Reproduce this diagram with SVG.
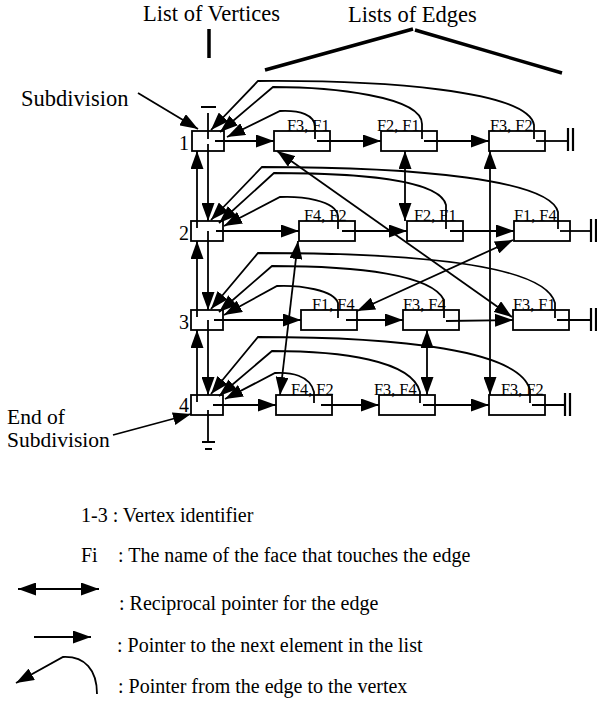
<svg xmlns="http://www.w3.org/2000/svg" width="597" height="702" viewBox="0 0 597 702" font-family="Liberation Serif, Times New Roman, serif">
<style>
text{font-family:'Liberation Serif','Times New Roman',serif;fill:#000}
.t{font-size:22.5px}
.t2{font-size:21.5px}
.lg{font-size:20px}
.el{font-size:16.3px}
.vl{font-size:20px}
rect{fill:#fff;stroke:#000;stroke-width:1.8}
.ln{fill:none;stroke:#000;stroke-width:1.8}
.th{fill:none;stroke:#000;stroke-width:3.5}
.a{marker-end:url(#ah)}
.r{marker-start:url(#ah);marker-end:url(#ah)}
</style>
<defs>
<marker id="ah" markerUnits="userSpaceOnUse" markerWidth="18" markerHeight="13" refX="18" refY="6.5" orient="auto-start-reverse"><path d="M0,0 L18,6.5 L0,13 z" fill="#000"/></marker>
</defs>
<g id="titles" font-family="Liberation Serif, serif">
<text class="t" x="143" y="21" font-family="Liberation Serif, serif">List of Vertices</text>
<path class="th" d="M209,29 L209,58"/>
<text class="t" x="348" y="22" font-family="Liberation Serif, serif">Lists of Edges</text>
<path class="th" d="M265,70 L413,29 M415,30 L562,73"/>
<text class="t" x="21" y="106" font-family="Liberation Serif, serif">Subdivision</text>
<text class="t2" x="7" y="424" font-family="Liberation Serif, serif">End of</text>
<text class="t2" x="7" y="447" font-family="Liberation Serif, serif">Subdivision</text>
</g>
<g id="vertices" font-family="Liberation Serif, serif">
<g id="v1"><rect x="192" y="131" width="32" height="20"/><text class="vl" x="189" y="150" text-anchor="end">1</text></g>
<g id="v2"><rect x="191" y="221" width="32" height="20"/><text class="vl" x="189" y="240" text-anchor="end">2</text></g>
<g id="v3"><rect x="191" y="310" width="32" height="20"/><text class="vl" x="189" y="329" text-anchor="end">3</text></g>
<g id="v4"><rect x="191" y="395" width="32" height="20"/><text class="vl" x="189" y="412" text-anchor="end">4</text></g>
</g>
<g id="edges" font-family="Liberation Serif, serif">
<g id="e11"><rect x="274" y="131" width="56" height="20"/><text class="el" x="287" y="131">F3, F1</text></g>
<g id="e12"><rect x="381" y="131" width="56" height="20"/><text class="el" x="377" y="131">F2, F1</text></g>
<g id="e13"><rect x="489" y="131" width="56" height="20"/><text class="el" x="490" y="131">F3, F2</text></g>
<g id="e21"><rect x="299" y="221" width="56" height="20"/><text class="el" x="304" y="221">F4, F2</text></g>
<g id="e22"><rect x="407" y="221" width="56" height="20"/><text class="el" x="414" y="221">F2, F1</text></g>
<g id="e23"><rect x="514" y="221" width="56" height="20"/><text class="el" x="514" y="221">F1, F4</text></g>
<g id="e31"><rect x="301" y="310" width="56" height="20"/><text class="el" x="312" y="310">F1, F4</text></g>
<g id="e32"><rect x="403" y="310" width="56" height="20"/><text class="el" x="403" y="310">F3, F4</text></g>
<g id="e33"><rect x="513" y="310" width="56" height="20"/><text class="el" x="513" y="310">F3, F1</text></g>
<g id="e41"><rect x="276" y="395" width="56" height="20"/><text class="el" x="291" y="395">F4, F2</text></g>
<g id="e42"><rect x="379" y="395" width="56" height="20"/><text class="el" x="374" y="395">F3, F4</text></g>
<g id="e43"><rect x="489" y="395" width="56" height="20"/><text class="el" x="501" y="395">F3, F2</text></g>
</g>
<g id="connectors">
<path class="ln a" d="M138,93 L198,129"/>
<path class="ln a" d="M113,435 L191,414"/>
<path class="ln" d="M201,107 L216,107 M208,113 L208,139 M208,410 L208,442 M202,442 L215,442 M205,449 L212,449"/>
<path class="ln a" d="M197,228 L197,151"/>
<path class="ln a" d="M197,317 L197,241"/>
<path class="ln a" d="M197,402 L197,330"/>
<path class="ln a" d="M208,144 L208,221"/>
<path class="ln a" d="M208,231 L208,310"/>
<path class="ln a" d="M208,320 L208,395"/>
<path class="ln a" d="M215,141 L274,141"/>
<path class="ln a" d="M317,141 L381,141"/>
<path class="ln a" d="M424,141 L489,141"/>
<path class="ln" d="M536,141 L568,141"/>
<path class="ln a" d="M216,231 L299,231"/>
<path class="ln a" d="M342,231 L407,231"/>
<path class="ln a" d="M450,231 L514,231"/>
<path class="ln" d="M560,231 L591,231"/>
<path class="ln a" d="M214,320 L301,320"/>
<path class="ln a" d="M346,320 L403,320"/>
<path class="ln a" d="M446,321 L513,320"/>
<path class="ln" d="M557,320 L591,320"/>
<path class="ln a" d="M213,405 L276,405"/>
<path class="ln a" d="M321,405 L379,405"/>
<path class="ln a" d="M423,405 L489,405"/>
<path class="ln" d="M532,405 L565,405"/>
<path class="ln" style="stroke-width:2.2" d="M568,128 L568,151 M573,128 L573,151 M591,219 L591,242 M596,219 L596,242 M591,308 L591,331 M596,308 L596,331 M565,393 L565,416 M570,393 L570,416"/>
<path class="ln a" d="M315,139 L315,127 C315,115 300,110 280,111 L227,137"/>
<path class="ln a" d="M422,139 L422,124 C422,96 330,87 273,87 L220,132"/>
<path class="ln a" d="M534,139 L534,125 C528,90 380,80 258,81 L211,130"/>
<path class="ln a" d="M338,229 L338,216 C336,200 300,196 280,197 L224,226"/>
<path class="ln a" d="M446,229 L446,205 C440,180 360,173 274,173 L219,223"/>
<path class="ln a" d="M558,229 L558,212 C550,180 420,167 262,167 L211,220"/>
<path class="ln a" d="M338,318 L338,303 C334,290 300,285 277,286 L224,315"/>
<path class="ln a" d="M444,318 L444,300 C432,275 360,266 272,266 L219,312"/>
<path class="ln a" d="M555,318 L555,303 C545,265 420,253 258,253 L211,309"/>
<path class="ln a" d="M314,403 L314,392 C310,375 290,372 275,373 L225,399"/>
<path class="ln a" d="M420,403 L420,392 C412,360 340,351 272,351 L219,396"/>
<path class="ln a" d="M530,403 L530,390 C520,350 400,337 258,337 L211,394"/>
<path class="ln r" d="M405,151 L405,221"/>
<path class="ln r" d="M490,151 L490,395"/>
<path class="ln r" d="M277,151 L512,317"/>
<path class="ln r" d="M513,240 L357,311"/>
<path class="ln r" d="M298,241 L280,395"/>
<path class="ln r" d="M427,330 L427,395"/>
<path class="ln r" d="M18,589 L99,589"/>
<path class="ln a" d="M34,637 L91,637"/>
<path class="ln a" d="M97,694 C97,670 85,656 63,657 L16,683"/>
</g>
<g id="legend" font-family="Liberation Serif, serif">
<text class="lg" x="81" y="522">1-3 : Vertex identifier</text>
<text class="lg" x="81" y="562">Fi</text>
<text class="lg" x="118" y="562">: The name of the face that touches the edge</text>
<text class="lg" x="119" y="610">: Reciprocal pointer for the edge</text>
<text class="lg" x="117" y="652">: Pointer to the next element in the list</text>
<text class="lg" x="118" y="693">: Pointer from the edge to the vertex</text>
</g>
</svg>
